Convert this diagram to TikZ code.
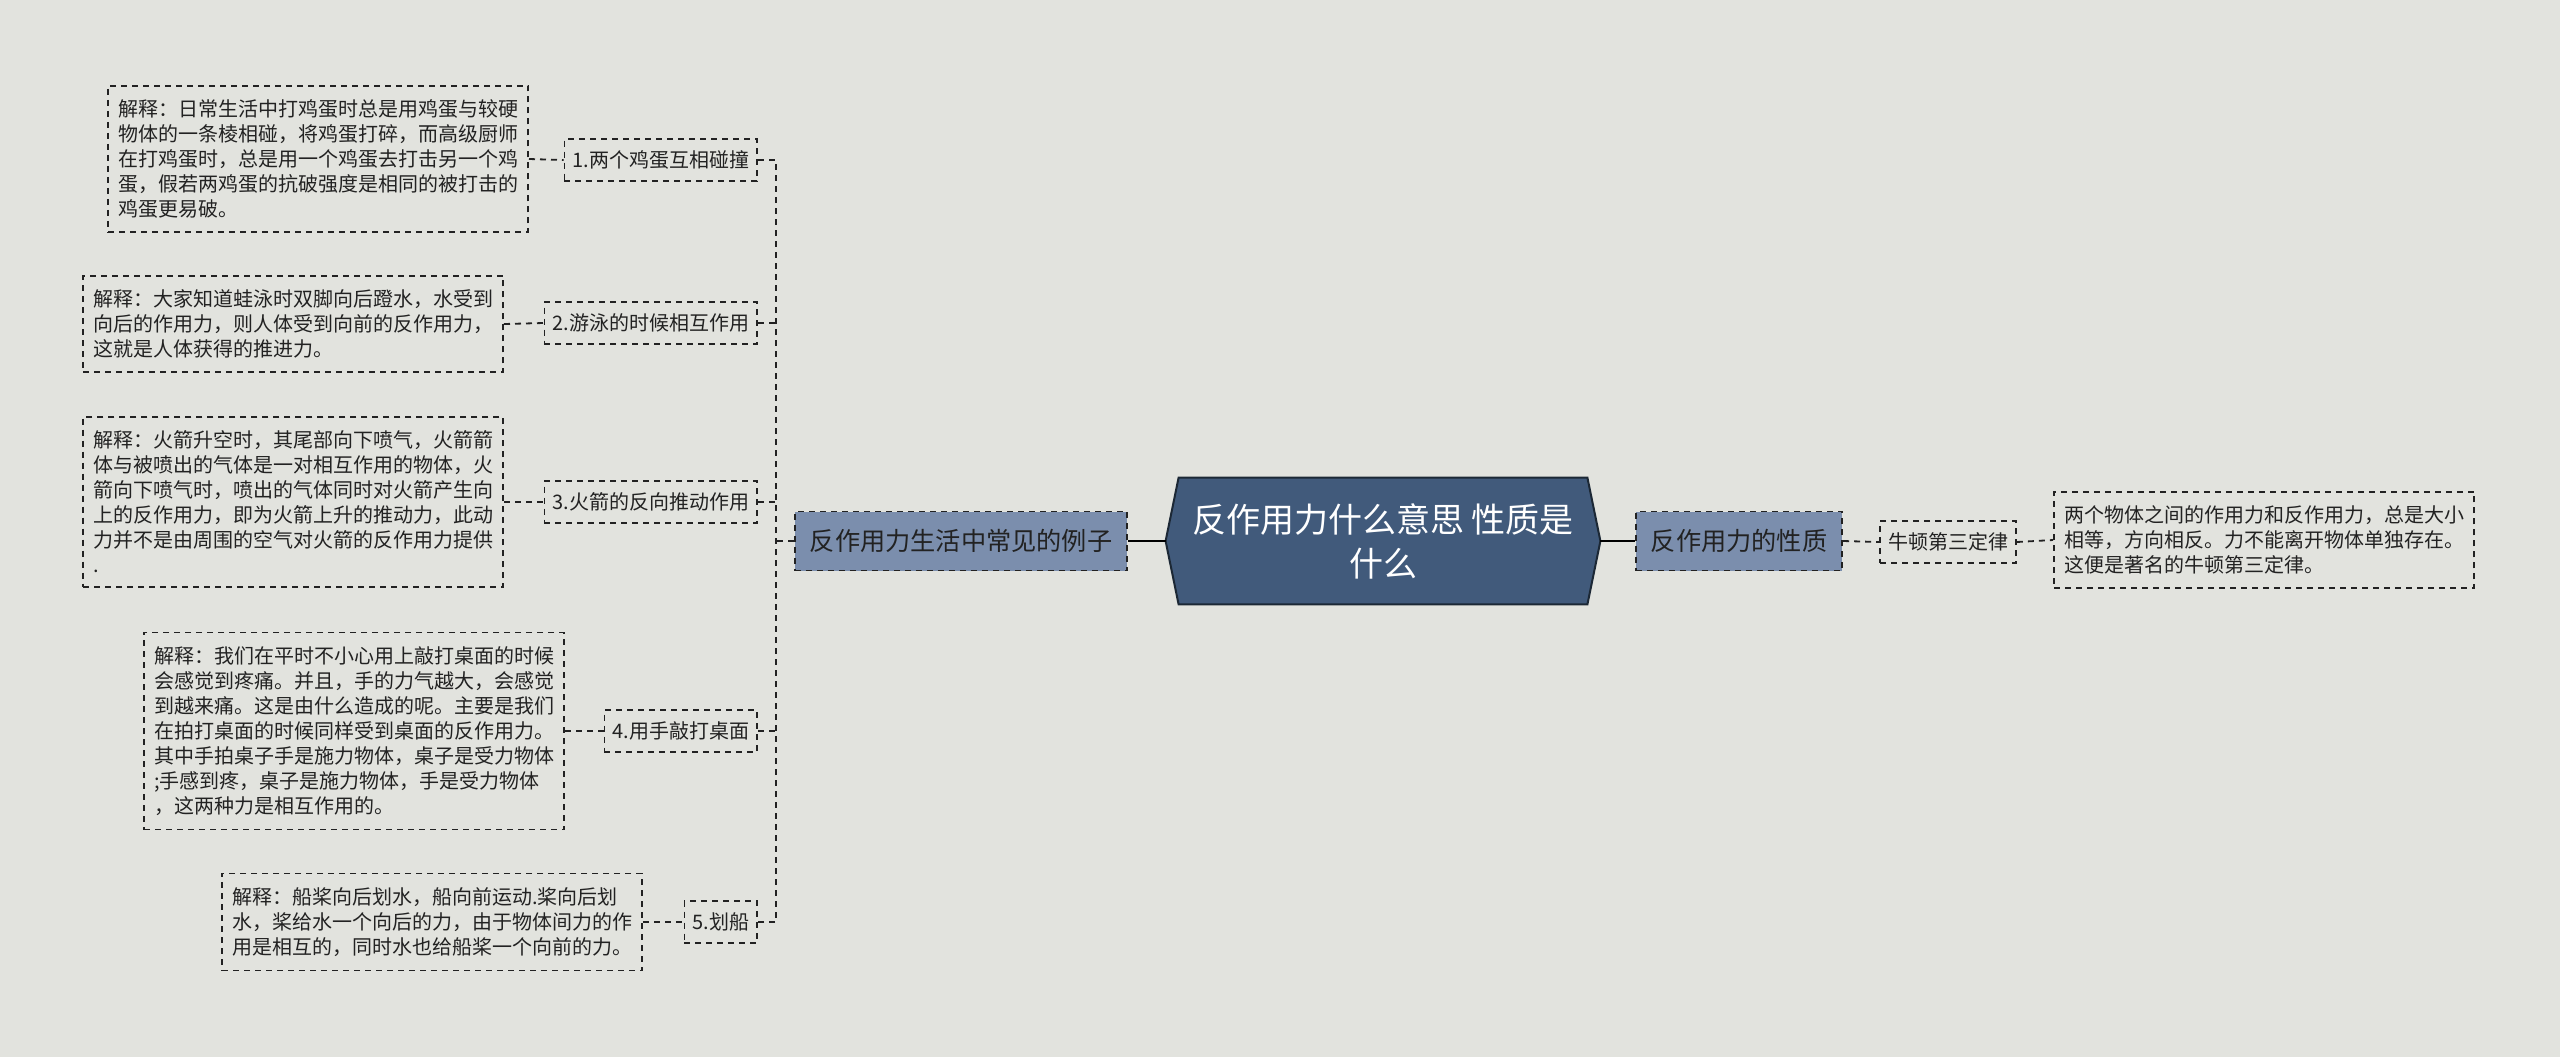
\documentclass[tikz,border=0pt]{standalone}
\usepackage{fontspec}
\setmainfont{Noto Sans CJK SC}
\usetikzlibrary{backgrounds}

\definecolor{bgcol}{HTML}{E2E3DE}
\definecolor{rootfill}{HTML}{415A7B}
\definecolor{rootline}{HTML}{1C2835}
\definecolor{branchfill}{HTML}{7B8EAD}
\definecolor{inkcol}{HTML}{222222}

\tikzset{
  dashline/.style={draw=inkcol, line width=0.9pt, dash pattern=on 3pt off 2.5pt},
  solidline/.style={draw=black, line width=1pt},
  branchbox/.style={dashline, fill=branchfill, text=inkcol,
    font=\fontsize{12.6}{15}\selectfont, inner xsep=7.5pt, minimum height=29.5pt},
  itembox/.style={dashline, text=inkcol, font=\fontsize{10}{12.5}\selectfont,
    inner xsep=4pt, minimum height=21pt, anchor=east},
  notebox/.style={dashline, text=inkcol, font=\fontsize{10}{12.5}\selectfont,
    text width=200pt, align=left, inner xsep=5pt, inner ysep=7pt, anchor=east},
}

\begin{document}
\begin{tikzpicture}[x=0.5pt, y=-0.5pt]
    % 画布
    \begin{scope}[on background layer]
      \fill[bgcol] (0,0) rectangle (2560,1057);
    \end{scope}
    \useasboundingbox (0,0) rectangle (2560,1057);

    % 中心主题
    \node[text=white, font=\fontsize{17}{22}\selectfont, align=center,
      minimum width=217pt, minimum height=63pt] (root) at (1383,541)
      {反作用力什么意思 性质是\\什么};
    \begin{scope}[on background layer]
      \filldraw[fill=rootfill, draw=rootline, line width=1pt]
        ([xshift=6.5pt]root.north west) -- ([xshift=-6.5pt]root.north east)
        -- (root.east) -- ([xshift=-6.5pt]root.south east)
        -- ([xshift=6.5pt]root.south west) -- (root.west) -- cycle;
    \end{scope}

    % 两个分支
    \node[branchbox] (lb) at (961,541) {反作用力生活中常见的例子};
    \node[branchbox] (rb) at (1739,541) {反作用力的性质};
    \draw[solidline] (root.west) -- (lb.east);
    \draw[solidline] (root.east) -- (rb.west);

    % 左边：五个例子
    \node[itembox] (it1) at (758,160) {1.两个鸡蛋互相碰撞};
    \node[itembox] (it2) at (758,323) {2.游泳的时候相互作用};
    \node[itembox] (it3) at (758,502) {3.火箭的反向推动作用};
    \node[itembox] (it4) at (758,731) {4.用手敲打桌面};
    \node[itembox] (it5) at (758,922) {5.划船};

    % 左边：解释
    \node[notebox] (nt1) at (529,159) {解释：日常生活中打鸡蛋时总是用鸡蛋与较硬\\物体的一条棱相碰，将鸡蛋打碎，而高级厨师\\在打鸡蛋时，总是用一个鸡蛋去打击另一个鸡\\蛋，假若两鸡蛋的抗破强度是相同的被打击的\\鸡蛋更易破。};
    \node[notebox] (nt2) at (504,324) {解释：大家知道蛙泳时双脚向后蹬水，水受到\\向后的作用力，则人体受到向前的反作用力，\\这就是人体获得的推进力。};
    \node[notebox] (nt3) at (504,502) {解释：火箭升空时，其尾部向下喷气，火箭箭\\体与被喷出的气体是一对相互作用的物体，火\\箭向下喷气时，喷出的气体同时对火箭产生向\\上的反作用力，即为火箭上升的推动力，此动\\力并不是由周围的空气对火箭的反作用力提供\\.};
    \node[notebox] (nt4) at (565,731) {解释：我们在平时不小心用上敲打桌面的时候\\会感觉到疼痛。并且，手的力气越大，会感觉\\到越来痛。这是由什么造成的呢。主要是我们\\在拍打桌面的时候同样受到桌面的反作用力。\\其中手拍桌子手是施力物体，桌子是受力物体\\;手感到疼，桌子是施力物体，手是受力物体\\，这两种力是相互作用的。};
    \node[notebox] (nt5) at (643,922) {解释：船桨向后划水，船向前运动.桨向后划\\水，桨给水一个向后的力，由于物体间力的作\\用是相互的，同时水也给船桨一个向前的力。};

    % 左边连线
    \coordinate (bus) at (776,541);
    \draw[dashline] (lb.west) -- (bus);
    \draw[dashline] (it1.east) -- (it1.east -| bus) -- (it5.east -| bus) -- (it5.east);
    \foreach \i in {2,3,4}
      \draw[dashline] (it\i.east) -- (it\i.east -| bus);
    \foreach \i in {1,...,5}
      \draw[dashline] (nt\i.east) -- (it\i.west);

    % 右边
    \node[itembox, anchor=center] (law) at (1948,542) {牛顿第三定律};
    \node[notebox, anchor=center] (rn) at (2264,540) {两个物体之间的作用力和反作用力，总是大小\\相等，方向相反。力不能离开物体单独存在。\\这便是著名的牛顿第三定律。};
    \draw[dashline] (rb.east) -- (law.west);
    \draw[dashline] (law.east) -- (rn.west);
\end{tikzpicture}
\end{document}
